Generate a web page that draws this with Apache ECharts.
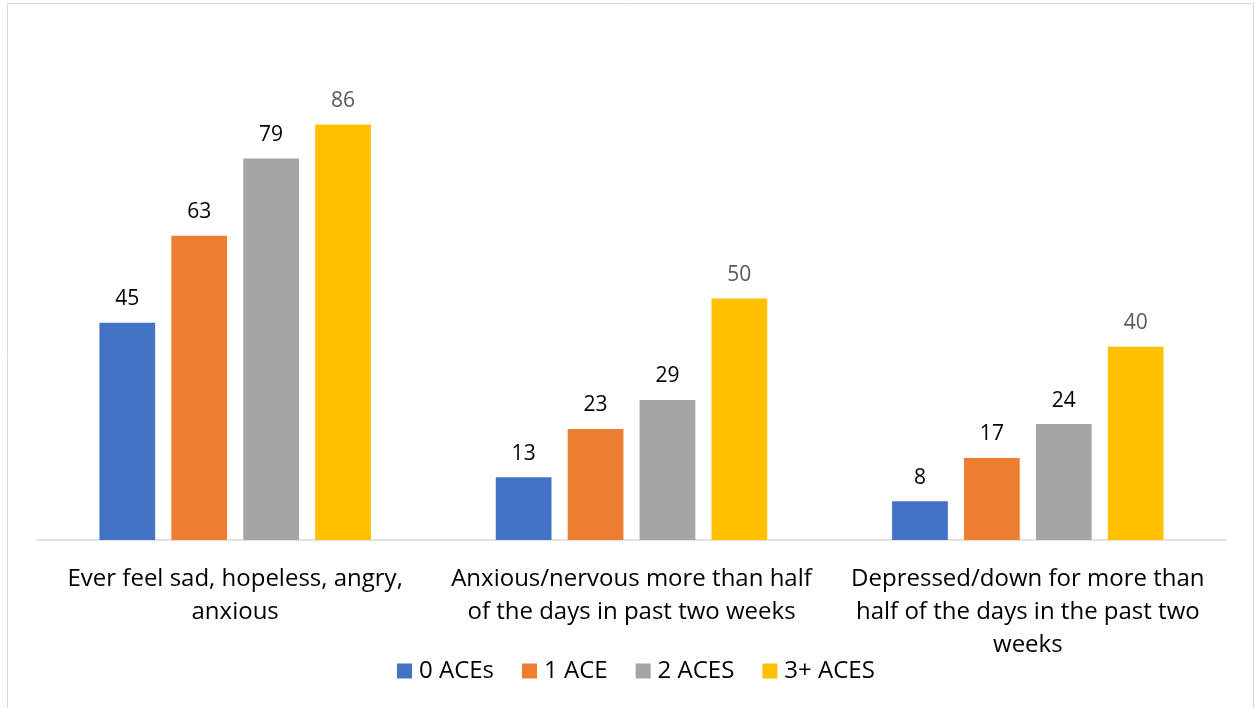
<!DOCTYPE html>
<html>
<head>
<meta charset="utf-8">
<script src="https://cdn.jsdelivr.net/npm/echarts@6/dist/echarts.min.js"></script>
<style>
  html, body { margin: 0; padding: 0; background: #fff; }
  #chart { width: 1255px; height: 708px; }
</style>
</head>
<body>
<div id="chart"></div>
<script>
// Share of respondents (%) reporting each condition, by number of ACEs
const categories = [
  "Ever feel sad, hopeless, angry,\nanxious",
  "Anxious/nervous more than half\nof the days in past two weeks",
  "Depressed/down for more than\nhalf of the days in the past two\nweeks"
];
const seriesNames = ["0 ACEs", "1 ACE", "2 ACES", "3+ ACES"];
const aces0 = [45, 13, 8];
const aces1 = [63, 23, 17];
const aces2 = [79, 29, 24];
const aces3 = [86, 50, 40];

const colors = ["#4472C4", "#ED7D31", "#A5A5A5", "#FFC000"];
const labelColors = ["#000000", "#000000", "#000000", "#595959"];
const font = "'Open Sans', sans-serif";

const chart = echarts.init(document.getElementById("chart"), null, { renderer: "canvas" });

const values = [aces0, aces1, aces2, aces3];
const series = seriesNames.map((name, i) => ({
  name,
  type: "bar",
  data: values[i],
  barGap: "29%",
  barCategoryGap: "31.5%",
  itemStyle: { color: colors[i] },
  label: {
    show: true,
    position: "top",
    distance: 13,
    color: labelColors[i],
    fontFamily: font,
    fontSize: 21
  }
}));

chart.setOption({
  backgroundColor: "#ffffff",
  animation: false,
  graphic: [{
    type: "rect",
    shape: { x: 7.5, y: 3.5, width: 1246, height: 720 },
    style: { fill: "none", stroke: "#d9d9d9", lineWidth: 1 },
    silent: true,
    z: -10
  }],
  grid: { left: 37, right: 29, top: 57, bottom: 168, containLabel: false },
  legend: {
    bottom: 20,
    left: 392,
    itemWidth: 15,
    itemHeight: 15,
    itemGap: 28,
    icon: "rect",
    textStyle: { fontFamily: font, fontSize: 24, color: "#000000", padding: [0, 0, 0, 2] },
    data: seriesNames
  },
  xAxis: {
    type: "category",
    data: categories,
    axisLine: { show: true, lineStyle: { color: "#d9d9d9", width: 1.5 } },
    axisTick: { show: false },
    axisLabel: {
      interval: 0,
      margin: 23,
      color: "#000000",
      fontFamily: font,
      fontSize: 24,
      lineHeight: 33,
      align: "center"
    }
  },
  yAxis: {
    type: "value",
    min: 0,
    max: 100,
    show: false,
    splitLine: { show: false }
  },
  series
});
</script>
</body>
</html>
